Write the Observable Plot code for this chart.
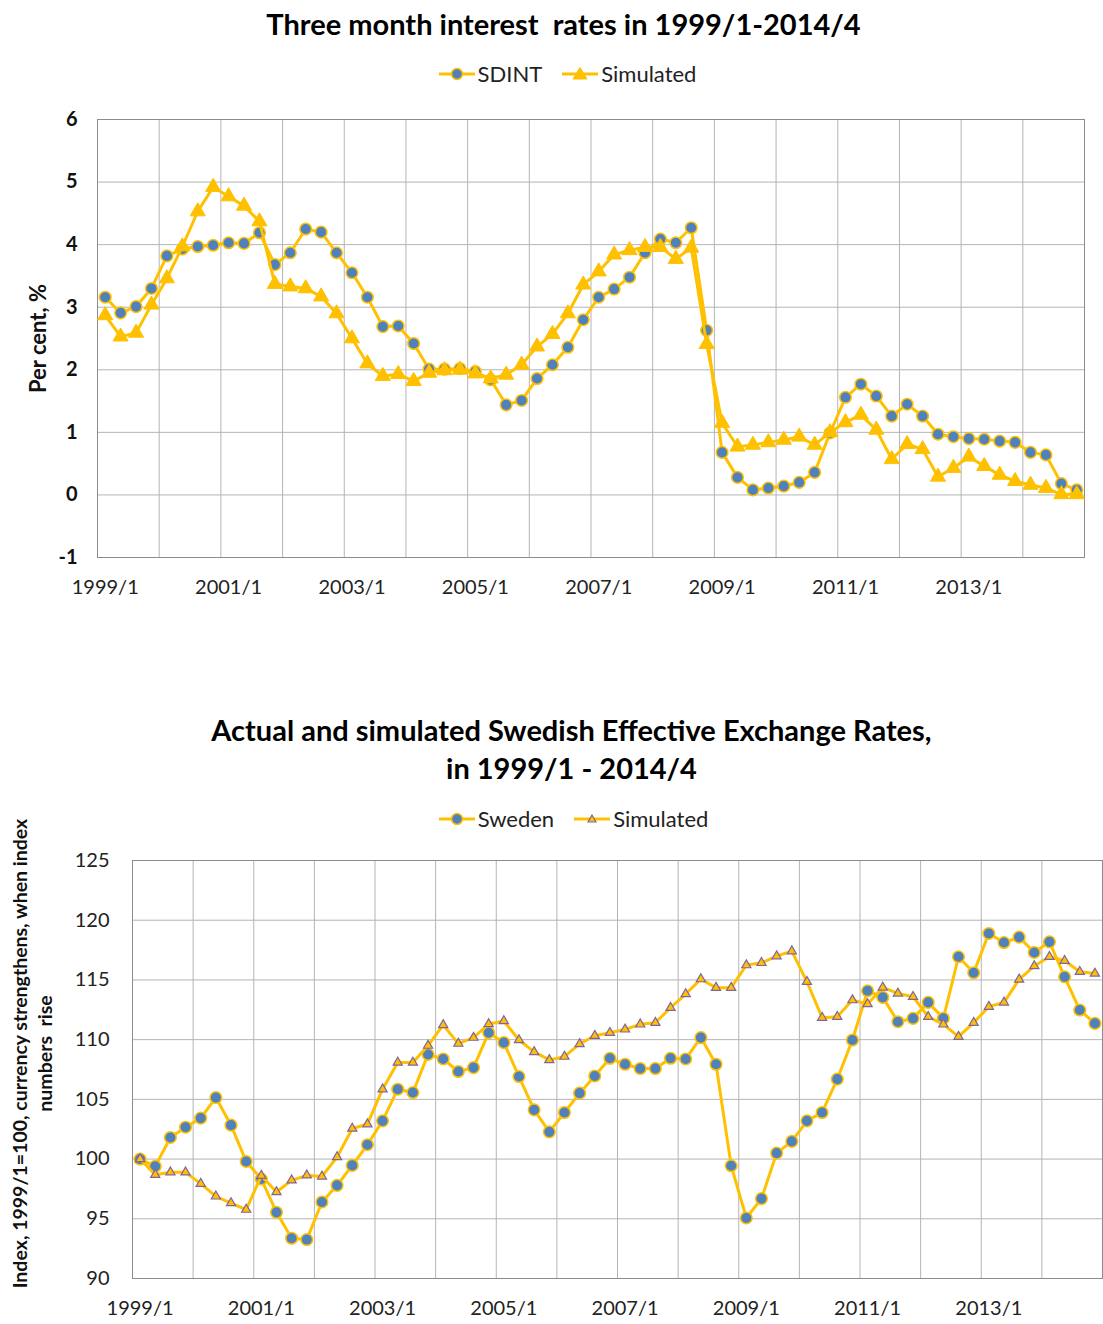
<!DOCTYPE html>
<html><head><meta charset="utf-8">
<script src="https://cdn.jsdelivr.net/npm/d3@7"></script>
<script src="https://cdn.jsdelivr.net/npm/@observablehq/plot@0.6"></script>
<style>
body{margin:0;background:#fff;font-family:Lato, "Open Sans", sans-serif;}
#page{position:relative;width:1103px;height:1324px;overflow:hidden;}
.title{position:absolute;left:0;width:1103px;text-align:center;font-weight:bold;color:#000;font-size:29px;line-height:38px;z-index:2;box-sizing:border-box;}
.legend{position:absolute;left:0;width:1103px;display:flex;justify-content:center;gap:20px;font-size:22px;color:#222;z-index:2;box-sizing:border-box;}
.legend .item{display:flex;align-items:center;gap:3px;}
.chart{position:absolute;left:0;z-index:1;}
</style></head><body><div id="page"></div>
<script>
// ---- data ----
const tickLabels = ["1999/1","2001/1","2003/1","2005/1","2007/1","2009/1","2011/1","2013/1"];
const sdint = [3.16,2.91,3.01,3.30, 3.82,3.93,3.97,3.99, 4.03,4.02,4.19,3.68, 3.87,4.25,4.20,3.87,
  3.55,3.16,2.69,2.70, 2.42,2.01,2.01,2.02, 1.97,1.84,1.44,1.51, 1.86,2.08,2.36,2.80,
  3.16,3.29,3.48,3.87, 4.09,4.03,4.27,2.63, 0.68,0.28,0.08,0.11, 0.14,0.20,0.36,0.99,
  1.56,1.77,1.58,1.26, 1.45,1.26,0.97,0.93, 0.90,0.89,0.86,0.84, 0.68,0.64,0.18,0.08];
const simRate = [2.87,2.53,2.59,3.04, 3.46,3.97,4.53,4.92, 4.77,4.62,4.37,3.37, 3.33,3.30,3.17,2.90,
  2.50,2.10,1.90,1.93, 1.82,1.95,1.99,2.00, 1.94,1.86,1.92,2.08, 2.37,2.57,2.90,3.36,
  3.57,3.84,3.91,3.96, 3.96,3.77,3.95,2.41, 1.15,0.77,0.80,0.84, 0.88,0.93,0.80,1.00,
  1.16,1.28,1.04,0.57, 0.81,0.73,0.29,0.43, 0.61,0.46,0.32,0.22, 0.16,0.11,0.01,0.01];
const sweden = [100.0,99.39,101.81,102.67, 103.43,105.15,102.84,99.80, 98.33,95.54,93.37,93.26,
  96.41,97.80,99.47,101.20, 103.20,105.85,105.57,108.77, 108.38,107.33,107.66,110.58,
  109.75,106.91,104.12,102.28, 103.90,105.52,106.96,108.44, 107.94,107.58,107.58,108.44,
  108.38,110.17,107.94,99.44, 95.07,96.69,100.50,101.48, 103.20,103.90,106.69,109.97,
  114.09,113.54,111.50,111.78, 113.12,111.78,116.94,115.60, 118.89,118.13,118.58,117.30,
  118.19,115.26,112.48,111.36];
const simFx = [100.0,98.69,98.89,98.89, 97.94,96.88,96.32,95.77, 98.61,97.24,98.22,98.64,
  98.55,100.17,102.56,102.92, 105.85,108.08,108.08,109.50, 111.23,109.67,110.17,111.31,
  111.56,109.97,108.97,108.30, 108.58,109.64,110.33,110.58, 110.86,111.28,111.42,112.67,
  113.82,115.07,114.35,114.35, 116.24,116.43,116.99,117.41, 114.85,111.84,111.92,113.31,
  112.98,114.37,113.87,113.59, 111.92,111.28,110.25,111.42, 112.76,113.12,115.04,116.16,
  116.94,116.60,115.68,115.54];
const rateTicks = [-1, 0, 1, 2, 3, 4, 5, 6];
const fxTicks = [90, 95, 100, 105, 110, 115, 120, 125];

// ---- styles ----
const gold = "#ffc000", blue = "#4f81bd", purple = "#8064a2";
const gridColor = "#b4b4b4", frameColor = "#8c8c8c";
const idx = d3.range(sdint.length);
const gridTicks = d3.range(-0.5, 64, 4);
const labelTicks = d3.range(0, 64, 8);

const page = document.getElementById("page");
function addTitle(text, top, shift){
  const d = document.createElement("div"); d.className = "title"; d.style.top = top + "px";
  d.style.paddingLeft = (2 * shift) + "px";
  d.innerHTML = text; page.appendChild(d);
}
function addLegend(items, top, shift){
  const d = document.createElement("div"); d.className = "legend"; d.style.top = top + "px";
  d.style.paddingLeft = (2 * shift) + "px";
  for (const it of items){
    const s = document.createElement("span"); s.className = "item";
    s.innerHTML = `<svg width="36" height="20" viewBox="0 0 36 20"><line x1="0" y1="10" x2="36" y2="10" stroke="${gold}" stroke-width="3"/>${it.sym}</svg><span>${it.label}</span>`;
    d.appendChild(s);
  }
  page.appendChild(d);
}
function place(svg, top){ const w = document.createElement("div"); w.className="chart"; w.style.top = top+"px"; w.appendChild(svg); page.appendChild(w); }

// ---- chart 1 ----
addTitle("Three month interest&nbsp; rates in 1999/1-2014/4", 5, 12);
addLegend([
  {label:"SDINT", sym:`<circle cx="18" cy="10" r="5.5" fill="${blue}" stroke="${gold}" stroke-width="1.5"/>`},
  {label:"Simulated", sym:`<path d="M18,3.5 L25,15 L11,15 Z" fill="${gold}" stroke="${gold}"/>`}
], 60, 16);

const c1 = Plot.plot({
  width: 1103, height: 520,
  marginLeft: 97, marginRight: 19, marginTop: 19, marginBottom: 63,
  style: {fontFamily: "Lato, sans-serif", background: "transparent"},
  x: {domain: [-0.5, 63.5], axis: null},
  y: {domain: [-1, 6], axis: null},
  marks: [
    Plot.gridX(gridTicks, {stroke: gridColor, strokeOpacity: 1}),
    Plot.gridY(rateTicks, {stroke: gridColor, strokeOpacity: 1}),
    Plot.frame({stroke: frameColor}),
    Plot.axisX(labelTicks, {tickSize: 0, tickPadding: 22, fontSize: 20, fill: "#222", tickFormat: d => tickLabels[d / 8]}),
    Plot.axisY(rateTicks, {tickSize: 0, tickPadding: 20, fontSize: 20, fontWeight: "bold", fill: "#111", tickFormat: d => String(d)}),
    Plot.text(["Per cent, %"], {frameAnchor: "left", textAnchor: "middle", dx: -59, rotate: -90, fontSize: 22, fontWeight: "bold", fill: "#111"}),
    Plot.line(idx, {x: i => i, y: i => sdint[i], stroke: gold, strokeWidth: 3}),
    Plot.dot(idx, {x: i => i, y: i => sdint[i], r: 5.8, fill: blue, stroke: gold, strokeWidth: 1.5}),
    Plot.line(idx, {x: i => i, y: i => simRate[i], stroke: gold, strokeWidth: 3}),
    Plot.dot(idx, {x: i => i, y: i => simRate[i], symbol: "triangle", r: 5.6, fill: gold, stroke: gold, strokeWidth: 1})
  ]
});
place(c1, 100);

// ---- chart 2 ----
addTitle("Actual and simulated Swedish Effective Exchange Rates,<br>in 1999/1 - 2014/4", 711, 20);
addLegend([
  {label:"Sweden", sym:`<circle cx="18" cy="10" r="5.5" fill="${blue}" stroke="${gold}" stroke-width="1.5"/>`},
  {label:"Simulated", sym:`<path d="M18,6 L22,13 L14,13 Z" fill="${gold}" stroke="${purple}" stroke-width="1.2"/>`}
], 805, 22);

const c2 = Plot.plot({
  width: 1103, height: 524,
  marginLeft: 132, marginRight: 1, marginTop: 60, marginBottom: 46,
  style: {fontFamily: "Lato, sans-serif", background: "transparent"},
  x: {domain: [-0.5, 63.5], axis: null},
  y: {domain: [90, 125], axis: null},
  marks: [
    Plot.gridX(gridTicks, {stroke: gridColor, strokeOpacity: 1}),
    Plot.gridY(fxTicks, {stroke: gridColor, strokeOpacity: 1}),
    Plot.frame({stroke: frameColor}),
    Plot.axisX(labelTicks, {tickSize: 0, tickPadding: 22, fontSize: 20, fill: "#222", tickFormat: d => tickLabels[d / 8]}),
    Plot.axisY(fxTicks, {tickSize: 0, tickPadding: 23, fontSize: 20, fill: "#222"}),
    Plot.text(["Index, 1999/1=100, currency strengthens, when index\nnumbers  rise"], {frameAnchor: "left", textAnchor: "middle", dx: -101, dy: -16, rotate: -90, fontSize: 19.5, lineHeight: 1.28, fontWeight: "bold", fill: "#111"}),
    Plot.line(idx, {x: i => i, y: i => sweden[i], stroke: gold, strokeWidth: 3}),
    Plot.dot(idx, {x: i => i, y: i => sweden[i], r: 5.8, fill: blue, stroke: gold, strokeWidth: 1.5}),
    Plot.line(idx, {x: i => i, y: i => simFx[i], stroke: gold, strokeWidth: 3}),
    Plot.dot(idx, {x: i => i, y: i => simFx[i], symbol: "triangle", r: 3.4, fill: gold, stroke: purple, strokeWidth: 1.2})
  ]
});
place(c2, 800);
</script>
</body></html>
